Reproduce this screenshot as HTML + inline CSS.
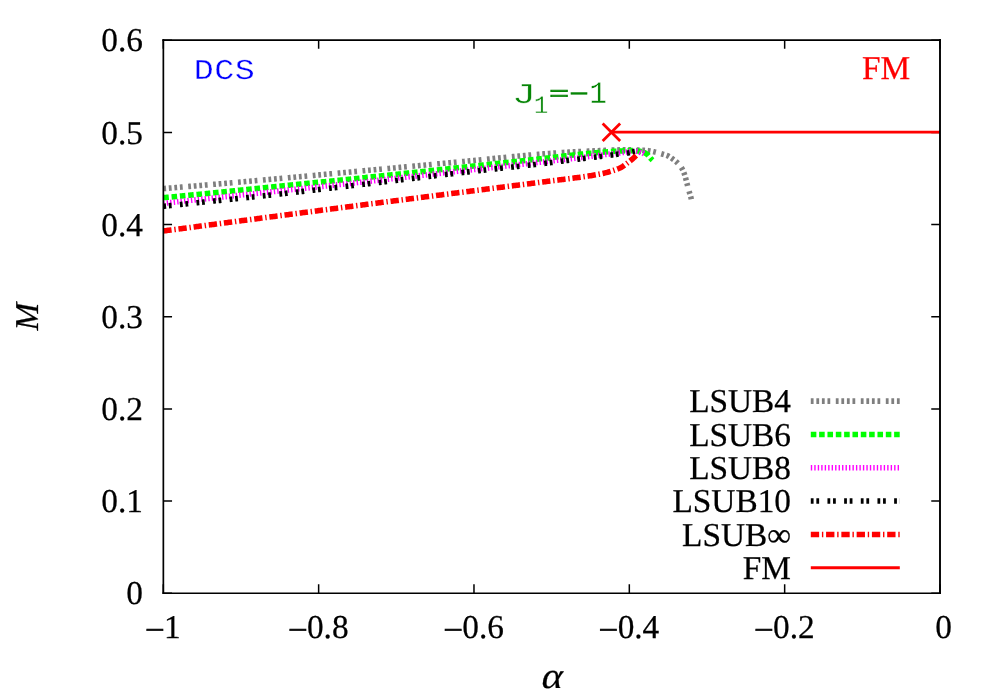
<!DOCTYPE html>
<html><head><meta charset="utf-8"><title>plot</title>
<style>
html,body{margin:0;padding:0;background:#fff;}
svg{display:block;will-change:transform;}
text{text-rendering:geometricPrecision;font-family:"Liberation Serif",serif;font-size:33.33px;fill:#000;stroke:#000;stroke-width:0.25px;}
.mono{font-family:"Liberation Mono",monospace;}
</style></head><body>
<svg width="1000" height="700" viewBox="0 0 1000 700">
<rect x="0" y="0" width="1000" height="700" fill="#fff"/>
<path d="M163.3 593.25h8.75 M940.0 593.25h-8.75 M163.3 501.08h8.75 M940.0 501.08h-8.75 M163.3 408.92h8.75 M940.0 408.92h-8.75 M163.3 316.75h8.75 M940.0 316.75h-8.75 M163.3 224.58h8.75 M940.0 224.58h-8.75 M163.3 132.42h8.75 M940.0 132.42h-8.75 M163.3 40.25h8.75 M940.0 40.25h-8.75 M163.30 593.0v-8.75 M163.30 40.0v8.75 M318.64 593.0v-8.75 M318.64 40.0v8.75 M473.98 593.0v-8.75 M473.98 40.0v8.75 M629.32 593.0v-8.75 M629.32 40.0v8.75 M784.66 593.0v-8.75 M784.66 40.0v8.75 M940.00 593.0v-8.75 M940.00 40.0v8.75" stroke="#000" stroke-width="1.5" fill="none"/>
<text x="143.0" y="604.35" text-anchor="end">0</text>
<text x="143.0" y="512.18" text-anchor="end">0.1</text>
<text x="143.0" y="420.02" text-anchor="end">0.2</text>
<text x="143.0" y="327.85" text-anchor="end">0.3</text>
<text x="143.0" y="235.68" text-anchor="end">0.4</text>
<text x="143.0" y="143.52" text-anchor="end">0.5</text>
<text x="143.0" y="51.35" text-anchor="end">0.6</text>
<text transform="translate(145.04,640.7) scale(1.05,1)" style="stroke:#000;stroke-width:0.55px">−</text>
<text x="164.12" y="637.7">1</text>
<text transform="translate(287.88,640.7) scale(1.05,1)" style="stroke:#000;stroke-width:0.55px">−</text>
<text x="306.96" y="637.7">0.8</text>
<text transform="translate(443.22,640.7) scale(1.05,1)" style="stroke:#000;stroke-width:0.55px">−</text>
<text x="462.30" y="637.7">0.6</text>
<text transform="translate(598.56,640.7) scale(1.05,1)" style="stroke:#000;stroke-width:0.55px">−</text>
<text x="617.64" y="637.7">0.4</text>
<text transform="translate(753.90,640.7) scale(1.05,1)" style="stroke:#000;stroke-width:0.55px">−</text>
<text x="772.98" y="637.7">0.2</text>
<text x="935.23" y="637.7">0</text>
<text transform="translate(539.9,688.3) skewX(-12) scale(1.2,1.1)" style="stroke:#000;stroke-width:0.2px">α</text>
<text transform="translate(38,316.5) rotate(-90)" text-anchor="middle" font-style="italic">M</text>
<text class="mono" x="0.43 18.14 35.86" transform="translate(193.3,79) scale(1.157,1)" style="font-size:28.80px;fill:#0000ff;stroke:#fff;stroke-width:0.3px;paint-order:fill stroke">DCS</text>
<text x="862" y="79" style="fill:#ff0000;stroke:#ff0000">FM</text>
<text class="mono" transform="translate(511.6,103.0) scale(1.45,1)" style="font-size:28.80px;fill:#058505;stroke:#fff;stroke-width:0.45px;paint-order:fill stroke">J</text>
<text class="mono" transform="translate(533.9,112.8) scale(0.95,1)" style="font-size:25.00px;fill:#058505;stroke:#fff;stroke-width:0.3px;paint-order:fill stroke">1</text>
<text class="mono" transform="translate(549.14,100.08000000000001) scale(1.143,0.7)" style="font-size:28.80px;fill:#058505;stroke:#058505;stroke-width:1.3px;paint-order:fill stroke">=</text>
<text class="mono" transform="translate(569,103.45) scale(1.157,1)" style="font-size:28.80px;fill:#058505;stroke:#058505;stroke-width:0.2px;paint-order:fill stroke">−</text>
<text class="mono" transform="translate(589.6,103.0) scale(0.92,1)" style="font-size:31.30px;fill:#058505;stroke:#fff;stroke-width:0.3px;paint-order:fill stroke">1</text>
<path d="M163.30 188.60 L164.69 188.48 L166.09 188.37 L167.48 188.25 L168.88 188.14 L170.27 188.02 L171.67 187.90 L173.06 187.79 L174.45 187.67 L175.85 187.55 L177.24 187.44 L178.64 187.32 L180.03 187.20 L181.43 187.08 L182.82 186.97 L184.21 186.85 L185.61 186.73 L187.00 186.61 L188.40 186.50 L189.79 186.38 L191.18 186.26 L192.58 186.14 L193.97 186.02 L195.37 185.91 L196.76 185.79 L198.15 185.67 L199.55 185.55 L200.94 185.43 L202.34 185.31 L203.73 185.19 L205.12 185.07 L206.52 184.96 L207.91 184.84 L209.31 184.72 L210.70 184.60 L212.09 184.48 L213.49 184.36 L214.88 184.24 L216.28 184.12 L217.67 184.00 L219.06 183.88 L220.46 183.76 L221.85 183.64 L223.25 183.52 L224.64 183.40 L226.03 183.28 L227.43 183.16 L228.82 183.04 L230.22 182.92 L231.61 182.80 L233.00 182.67 L234.40 182.55 L235.79 182.43 L237.19 182.31 L238.58 182.19 L239.97 182.07 L241.37 181.95 L242.76 181.82 L244.15 181.70 L245.55 181.58 L246.94 181.46 L248.34 181.33 L249.73 181.21 L251.12 181.09 L252.52 180.96 L253.91 180.84 L255.30 180.72 L256.70 180.59 L258.09 180.47 L259.48 180.35 L260.88 180.22 L262.27 180.10 L263.66 179.97 L265.06 179.85 L266.45 179.72 L267.85 179.60 L269.24 179.47 L270.63 179.35 L272.03 179.22 L273.42 179.09 L274.81 178.97 L276.21 178.84 L277.60 178.72 L278.99 178.59 L280.39 178.46 L281.78 178.34 L283.17 178.21 L284.57 178.08 L285.96 177.95 L287.35 177.83 L288.75 177.70 L290.14 177.57 L291.53 177.44 L292.93 177.32 L294.32 177.19 L295.71 177.06 L297.11 176.93 L298.50 176.80 L299.89 176.68 L301.28 176.55 L302.68 176.42 L304.07 176.29 L305.46 176.16 L306.86 176.03 L308.25 175.90 L309.64 175.77 L311.04 175.65 L312.43 175.52 L313.82 175.39 L315.22 175.26 L316.61 175.13 L318.00 175.00 L319.40 174.87 L320.79 174.74 L322.18 174.61 L323.58 174.48 L324.97 174.35 L326.36 174.22 L327.75 174.09 L329.15 173.96 L330.54 173.83 L331.93 173.71 L333.33 173.58 L334.72 173.45 L336.11 173.32 L337.51 173.19 L338.90 173.06 L340.29 172.93 L341.69 172.80 L343.08 172.67 L344.47 172.54 L345.86 172.41 L347.26 172.28 L348.65 172.15 L350.04 172.02 L351.44 171.89 L352.83 171.76 L354.22 171.63 L355.62 171.51 L357.01 171.38 L358.40 171.25 L359.80 171.12 L361.19 170.99 L362.58 170.86 L363.98 170.73 L365.37 170.60 L366.76 170.47 L368.15 170.34 L369.55 170.22 L370.94 170.09 L372.33 169.96 L373.73 169.83 L375.12 169.70 L376.51 169.57 L377.91 169.44 L379.30 169.31 L380.69 169.18 L382.09 169.05 L383.48 168.92 L384.87 168.79 L386.27 168.66 L387.66 168.53 L389.05 168.40 L390.44 168.27 L391.84 168.15 L393.23 168.02 L394.62 167.89 L396.02 167.76 L397.41 167.63 L398.80 167.50 L400.20 167.37 L401.59 167.24 L402.98 167.11 L404.38 166.98 L405.77 166.85 L407.16 166.72 L408.55 166.59 L409.95 166.46 L411.34 166.33 L412.73 166.20 L414.13 166.07 L415.52 165.94 L416.91 165.81 L418.31 165.68 L419.70 165.55 L421.09 165.42 L422.49 165.29 L423.88 165.16 L425.27 165.03 L426.66 164.90 L428.06 164.77 L429.45 164.64 L430.84 164.51 L432.24 164.38 L433.63 164.25 L435.02 164.12 L436.42 163.99 L437.81 163.86 L439.20 163.73 L440.60 163.60 L441.99 163.47 L443.38 163.34 L444.77 163.21 L446.17 163.09 L447.56 162.96 L448.95 162.83 L450.35 162.70 L451.74 162.57 L453.13 162.44 L454.53 162.31 L455.92 162.18 L457.31 162.05 L458.71 161.92 L460.10 161.79 L461.49 161.66 L462.88 161.53 L464.28 161.40 L465.67 161.27 L467.06 161.13 L468.46 161.00 L469.85 160.87 L471.24 160.73 L472.63 160.59 L474.03 160.46 L475.42 160.32 L476.81 160.18 L478.20 160.05 L479.60 159.91 L480.99 159.77 L482.38 159.63 L483.77 159.49 L485.17 159.35 L486.56 159.22 L487.95 159.08 L489.34 158.94 L490.74 158.80 L492.13 158.66 L493.52 158.52 L494.91 158.38 L496.31 158.24 L497.70 158.10 L499.09 157.96 L500.48 157.82 L501.88 157.68 L503.27 157.55 L504.66 157.41 L506.05 157.27 L507.45 157.13 L508.84 157.00 L510.23 156.86 L511.63 156.72 L513.02 156.59 L514.41 156.46 L515.80 156.32 L517.20 156.19 L518.59 156.06 L519.98 155.92 L521.38 155.79 L522.77 155.66 L524.16 155.54 L525.55 155.41 L526.95 155.28 L528.34 155.15 L529.74 155.03 L531.13 154.91 L532.52 154.78 L533.92 154.66 L535.31 154.54 L536.70 154.42 L538.10 154.31 L539.49 154.19 L540.89 154.07 L542.28 153.96 L543.67 153.85 L545.07 153.74 L546.46 153.63 L547.86 153.52 L549.25 153.42 L550.65 153.31 L552.04 153.21 L553.44 153.11 L554.83 153.01 L556.23 152.91 L557.62 152.82 L559.02 152.73 L560.41 152.63 L561.81 152.54 L563.21 152.45 L564.60 152.37 L566.00 152.28 L567.40 152.20 L568.79 152.11 L570.19 152.03 L571.59 151.95 L572.98 151.87 L574.38 151.80 L575.78 151.72 L577.18 151.65 L578.57 151.57 L579.97 151.50 L581.37 151.43 L582.76 151.36 L584.16 151.30 L585.56 151.23 L586.96 151.17 L588.35 151.10 L589.75 151.04 L591.15 150.98 L592.55 150.92 L593.95 150.86 L595.34 150.80 L596.74 150.74 L598.14 150.68 L599.54 150.62 L600.94 150.56 L602.33 150.49 L603.73 150.43 L605.13 150.36 L606.53 150.29 L607.92 150.23 L609.32 150.17 L610.72 150.11 L612.12 150.06 L613.52 150.01 L614.91 149.98 L616.31 149.94 L617.71 149.90 L619.11 149.87 L620.51 149.83 L621.91 149.80 L623.31 149.77 L624.71 149.75 L626.11 149.73 L627.50 149.71 L628.90 149.70 L630.30 149.70 L631.70 149.71 L633.10 149.75 L634.50 149.79 L635.90 149.85 L637.29 149.92 L638.69 150.00 L640.09 150.09 L641.49 150.17 L642.88 150.26 L644.28 150.35 L645.68 150.45 L647.07 150.57 L648.46 150.71 L649.84 150.89 L651.22 151.14 L652.59 151.45 L653.95 151.77 L655.31 152.09 L656.67 152.44 L658.02 152.80 L659.37 153.18 L660.72 153.57 L662.06 153.97 L663.40 154.37 L664.75 154.77 L666.09 155.20 L667.39 155.68 L668.64 156.26 L669.84 156.97 L671.01 157.76 L672.16 158.59 L673.30 159.40 L674.44 160.23 L675.55 161.10 L676.60 162.01 L677.58 162.98 L678.55 164.00 L679.48 165.07 L680.37 166.18 L681.19 167.32 L681.93 168.49 L682.60 169.69 L683.20 170.96 L683.75 172.26 L684.25 173.57 L684.70 174.89 L685.11 176.23 L685.49 177.58 L685.86 178.94 L686.21 180.29 L686.54 181.65 L686.87 183.01 L687.22 184.36 L687.57 185.72 L687.94 187.07 L688.31 188.42 L688.69 189.76 L689.06 191.11 L689.45 192.46 L689.85 193.80 L690.26 195.14 L690.65 196.48 L691.01 197.83 L691.30 199.20" fill="none" stroke="#7f7f7f" stroke-width="5.55" stroke-dasharray="2.778 2.778 2.778 2.778 2.778 2.778 2.778 5.556"/>
<path d="M163.30 197.70 L164.53 197.58 L165.77 197.47 L167.00 197.35 L168.24 197.24 L169.47 197.12 L170.71 197.00 L171.94 196.89 L173.18 196.77 L174.41 196.65 L175.65 196.54 L176.88 196.42 L178.12 196.30 L179.35 196.18 L180.59 196.07 L181.82 195.95 L183.06 195.83 L184.29 195.71 L185.53 195.59 L186.76 195.47 L188.00 195.36 L189.23 195.24 L190.47 195.12 L191.70 195.00 L192.93 194.88 L194.17 194.76 L195.40 194.64 L196.64 194.52 L197.87 194.40 L199.11 194.28 L200.34 194.16 L201.58 194.03 L202.81 193.91 L204.04 193.79 L205.28 193.67 L206.51 193.55 L207.75 193.43 L208.98 193.30 L210.22 193.18 L211.45 193.06 L212.68 192.93 L213.92 192.81 L215.15 192.69 L216.39 192.56 L217.62 192.44 L218.85 192.31 L220.09 192.19 L221.32 192.06 L222.56 191.94 L223.79 191.81 L225.02 191.68 L226.26 191.56 L227.49 191.43 L228.73 191.31 L229.96 191.18 L231.19 191.05 L232.43 190.92 L233.66 190.80 L234.90 190.67 L236.13 190.54 L237.36 190.42 L238.60 190.29 L239.83 190.16 L241.06 190.04 L242.30 189.91 L243.53 189.78 L244.77 189.66 L246.00 189.53 L247.23 189.40 L248.47 189.27 L249.70 189.15 L250.94 189.02 L252.17 188.90 L253.40 188.77 L254.64 188.64 L255.87 188.52 L257.11 188.39 L258.34 188.27 L259.57 188.14 L260.81 188.02 L262.04 187.89 L263.28 187.77 L264.51 187.65 L265.74 187.52 L266.98 187.40 L268.21 187.27 L269.45 187.15 L270.68 187.03 L271.91 186.90 L273.15 186.78 L274.38 186.66 L275.62 186.53 L276.85 186.41 L278.09 186.29 L279.32 186.16 L280.55 186.04 L281.79 185.92 L283.02 185.80 L284.26 185.67 L285.49 185.55 L286.73 185.43 L287.96 185.31 L289.19 185.18 L290.43 185.06 L291.66 184.94 L292.90 184.82 L294.13 184.69 L295.37 184.57 L296.60 184.45 L297.83 184.33 L299.07 184.21 L300.30 184.08 L301.54 183.96 L302.77 183.84 L304.01 183.72 L305.24 183.59 L306.47 183.47 L307.71 183.35 L308.94 183.23 L310.18 183.11 L311.41 182.98 L312.65 182.86 L313.88 182.74 L315.11 182.62 L316.35 182.49 L317.58 182.37 L318.82 182.25 L320.05 182.13 L321.29 182.00 L322.52 181.88 L323.75 181.76 L324.99 181.64 L326.22 181.51 L327.46 181.39 L328.69 181.27 L329.93 181.14 L331.16 181.02 L332.39 180.90 L333.63 180.77 L334.86 180.65 L336.10 180.53 L337.33 180.40 L338.56 180.28 L339.80 180.15 L341.03 180.03 L342.27 179.91 L343.50 179.78 L344.74 179.66 L345.97 179.53 L347.20 179.41 L348.44 179.28 L349.67 179.16 L350.91 179.03 L352.14 178.90 L353.37 178.78 L354.61 178.65 L355.84 178.53 L357.07 178.40 L358.31 178.27 L359.54 178.15 L360.78 178.02 L362.01 177.89 L363.24 177.77 L364.48 177.64 L365.71 177.51 L366.95 177.38 L368.18 177.26 L369.41 177.13 L370.65 177.00 L371.88 176.87 L373.11 176.74 L374.35 176.61 L375.58 176.49 L376.81 176.36 L378.05 176.23 L379.28 176.10 L380.52 175.97 L381.75 175.84 L382.98 175.71 L384.22 175.58 L385.45 175.45 L386.68 175.32 L387.92 175.19 L389.15 175.07 L390.38 174.94 L391.62 174.81 L392.85 174.68 L394.08 174.55 L395.32 174.42 L396.55 174.29 L397.79 174.15 L399.02 174.02 L400.25 173.89 L401.49 173.76 L402.72 173.63 L403.95 173.50 L405.19 173.37 L406.42 173.24 L407.65 173.11 L408.89 172.98 L410.12 172.85 L411.35 172.72 L412.59 172.58 L413.82 172.45 L415.05 172.32 L416.29 172.19 L417.52 172.06 L418.75 171.93 L419.99 171.80 L421.22 171.66 L422.45 171.53 L423.69 171.40 L424.92 171.27 L426.15 171.14 L427.39 171.00 L428.62 170.87 L429.85 170.74 L431.09 170.61 L432.32 170.48 L433.55 170.34 L434.79 170.21 L436.02 170.08 L437.25 169.95 L438.49 169.81 L439.72 169.68 L440.95 169.55 L442.19 169.42 L443.42 169.28 L444.65 169.15 L445.89 169.02 L447.12 168.89 L448.35 168.75 L449.58 168.62 L450.82 168.49 L452.05 168.36 L453.28 168.22 L454.52 168.09 L455.75 167.96 L456.98 167.82 L458.22 167.69 L459.45 167.56 L460.68 167.43 L461.92 167.29 L463.15 167.16 L464.38 167.03 L465.62 166.90 L466.85 166.76 L468.08 166.63 L469.32 166.50 L470.55 166.37 L471.78 166.24 L473.02 166.10 L474.25 165.97 L475.48 165.84 L476.72 165.71 L477.95 165.57 L479.18 165.44 L480.42 165.31 L481.65 165.18 L482.88 165.05 L484.12 164.92 L485.35 164.78 L486.58 164.65 L487.82 164.52 L489.05 164.39 L490.28 164.26 L491.52 164.12 L492.75 163.99 L493.98 163.86 L495.22 163.73 L496.45 163.59 L497.68 163.46 L498.92 163.33 L500.15 163.20 L501.38 163.06 L502.62 162.93 L503.85 162.80 L505.08 162.66 L506.32 162.53 L507.55 162.40 L508.78 162.26 L510.02 162.13 L511.25 162.00 L512.48 161.86 L513.71 161.73 L514.95 161.60 L516.18 161.46 L517.41 161.33 L518.65 161.19 L519.88 161.06 L521.11 160.92 L522.35 160.79 L523.58 160.65 L524.81 160.52 L526.04 160.38 L527.28 160.24 L528.51 160.11 L529.74 159.97 L530.98 159.84 L532.21 159.70 L533.44 159.56 L534.67 159.42 L535.91 159.29 L537.14 159.15 L538.37 159.01 L539.60 158.87 L540.84 158.73 L542.07 158.59 L543.30 158.45 L544.53 158.31 L545.77 158.17 L547.00 158.03 L548.23 157.89 L549.46 157.75 L550.70 157.61 L551.93 157.47 L553.16 157.33 L554.39 157.19 L555.62 157.04 L556.86 156.90 L558.09 156.75 L559.32 156.60 L560.55 156.45 L561.78 156.30 L563.01 156.16 L564.25 156.02 L565.48 155.88 L566.71 155.74 L567.94 155.60 L569.18 155.46 L570.41 155.33 L571.64 155.19 L572.88 155.06 L574.11 154.92 L575.34 154.79 L576.57 154.65 L577.81 154.52 L579.04 154.39 L580.28 154.26 L581.51 154.13 L582.74 154.01 L583.98 153.88 L585.21 153.75 L586.45 153.63 L587.68 153.51 L588.91 153.39 L590.15 153.27 L591.38 153.15 L592.62 153.04 L593.85 152.92 L595.09 152.81 L596.32 152.70 L597.56 152.59 L598.80 152.49 L600.03 152.39 L601.27 152.29 L602.51 152.20 L603.74 152.10 L604.98 152.01 L606.22 151.92 L607.45 151.83 L608.69 151.73 L609.93 151.64 L611.16 151.55 L612.40 151.47 L613.64 151.39 L614.88 151.32 L616.12 151.26 L617.35 151.20 L618.59 151.14 L619.83 151.08 L621.07 151.02 L622.31 150.96 L623.55 150.88 L624.79 150.81 L626.03 150.73 L627.27 150.67 L628.51 150.62 L629.74 150.60 L630.98 150.61 L632.23 150.64 L633.47 150.69 L634.71 150.76 L635.95 150.84 L637.19 150.93 L638.41 151.04 L639.64 151.23 L640.87 151.50 L642.07 151.82 L643.24 152.18 L644.40 152.65 L645.53 153.22 L646.56 153.88 L647.48 154.63 L648.32 155.53 L649.12 156.50 L649.90 157.50 L650.71 158.48 L651.58 159.37 L652.50 160.20" fill="none" stroke="#00ff00" stroke-width="5.55" stroke-dasharray="5.556 2.778"/>
<path d="M163.30 203.30 L164.51 203.17 L165.71 203.04 L166.92 202.91 L168.13 202.79 L169.33 202.66 L170.54 202.53 L171.75 202.40 L172.95 202.27 L174.16 202.14 L175.36 202.02 L176.57 201.89 L177.78 201.76 L178.98 201.63 L180.19 201.50 L181.40 201.37 L182.60 201.25 L183.81 201.12 L185.02 200.99 L186.22 200.86 L187.43 200.73 L188.64 200.60 L189.84 200.48 L191.05 200.35 L192.25 200.22 L193.46 200.09 L194.67 199.96 L195.87 199.83 L197.08 199.71 L198.29 199.58 L199.49 199.45 L200.70 199.32 L201.91 199.19 L203.11 199.06 L204.32 198.94 L205.53 198.81 L206.73 198.68 L207.94 198.55 L209.14 198.42 L210.35 198.29 L211.56 198.16 L212.76 198.04 L213.97 197.91 L215.18 197.78 L216.38 197.65 L217.59 197.52 L218.80 197.39 L220.00 197.27 L221.21 197.14 L222.42 197.01 L223.62 196.88 L224.83 196.75 L226.04 196.62 L227.24 196.50 L228.45 196.37 L229.65 196.24 L230.86 196.11 L232.07 195.98 L233.27 195.85 L234.48 195.72 L235.69 195.60 L236.89 195.47 L238.10 195.34 L239.31 195.21 L240.51 195.08 L241.72 194.95 L242.93 194.83 L244.13 194.70 L245.34 194.57 L246.54 194.44 L247.75 194.31 L248.96 194.18 L250.16 194.05 L251.37 193.93 L252.58 193.80 L253.78 193.67 L254.99 193.54 L256.20 193.41 L257.40 193.28 L258.61 193.15 L259.82 193.03 L261.02 192.90 L262.23 192.77 L263.43 192.64 L264.64 192.51 L265.85 192.38 L267.05 192.26 L268.26 192.13 L269.47 192.00 L270.67 191.87 L271.88 191.74 L273.09 191.62 L274.29 191.49 L275.50 191.36 L276.71 191.23 L277.91 191.10 L279.12 190.98 L280.33 190.85 L281.53 190.72 L282.74 190.59 L283.95 190.47 L285.15 190.34 L286.36 190.21 L287.56 190.08 L288.77 189.96 L289.98 189.83 L291.18 189.70 L292.39 189.57 L293.60 189.45 L294.80 189.32 L296.01 189.19 L297.22 189.06 L298.42 188.94 L299.63 188.81 L300.84 188.68 L302.04 188.55 L303.25 188.43 L304.46 188.30 L305.66 188.17 L306.87 188.04 L308.08 187.92 L309.28 187.79 L310.49 187.66 L311.70 187.53 L312.90 187.41 L314.11 187.28 L315.32 187.15 L316.52 187.02 L317.73 186.89 L318.93 186.77 L320.14 186.64 L321.35 186.51 L322.55 186.38 L323.76 186.25 L324.97 186.12 L326.17 186.00 L327.38 185.87 L328.59 185.74 L329.79 185.61 L331.00 185.48 L332.21 185.35 L333.41 185.22 L334.62 185.09 L335.82 184.96 L337.03 184.83 L338.24 184.70 L339.44 184.58 L340.65 184.45 L341.86 184.32 L343.06 184.19 L344.27 184.06 L345.47 183.93 L346.68 183.79 L347.89 183.66 L349.09 183.53 L350.30 183.40 L351.51 183.27 L352.71 183.14 L353.92 183.01 L355.12 182.88 L356.33 182.75 L357.54 182.61 L358.74 182.48 L359.95 182.35 L361.15 182.22 L362.36 182.09 L363.57 181.95 L364.77 181.82 L365.98 181.69 L367.18 181.55 L368.39 181.42 L369.60 181.29 L370.80 181.15 L372.01 181.02 L373.21 180.89 L374.42 180.75 L375.62 180.62 L376.83 180.48 L378.04 180.35 L379.24 180.21 L380.45 180.08 L381.65 179.94 L382.86 179.81 L384.07 179.67 L385.27 179.54 L386.48 179.40 L387.68 179.27 L388.89 179.13 L390.09 179.00 L391.30 178.86 L392.50 178.72 L393.71 178.59 L394.92 178.45 L396.12 178.32 L397.33 178.18 L398.53 178.04 L399.74 177.91 L400.94 177.77 L402.15 177.63 L403.35 177.50 L404.56 177.36 L405.77 177.22 L406.97 177.09 L408.18 176.95 L409.38 176.81 L410.59 176.68 L411.79 176.54 L413.00 176.40 L414.20 176.26 L415.41 176.13 L416.62 175.99 L417.82 175.85 L419.03 175.72 L420.23 175.58 L421.44 175.44 L422.64 175.31 L423.85 175.17 L425.05 175.03 L426.26 174.90 L427.47 174.76 L428.67 174.62 L429.88 174.48 L431.08 174.35 L432.29 174.21 L433.49 174.07 L434.70 173.94 L435.90 173.80 L437.11 173.66 L438.31 173.53 L439.52 173.39 L440.73 173.26 L441.93 173.12 L443.14 172.98 L444.34 172.85 L445.55 172.71 L446.75 172.57 L447.96 172.44 L449.17 172.30 L450.37 172.17 L451.58 172.03 L452.78 171.90 L453.99 171.76 L455.19 171.63 L456.40 171.49 L457.61 171.36 L458.81 171.22 L460.02 171.09 L461.22 170.95 L462.43 170.82 L463.63 170.68 L464.84 170.55 L466.05 170.42 L467.25 170.28 L468.46 170.15 L469.66 170.01 L470.87 169.88 L472.08 169.75 L473.28 169.61 L474.49 169.48 L475.69 169.35 L476.90 169.21 L478.10 169.08 L479.31 168.95 L480.52 168.82 L481.72 168.68 L482.93 168.55 L484.13 168.42 L485.34 168.28 L486.55 168.15 L487.75 168.02 L488.96 167.89 L490.16 167.75 L491.37 167.62 L492.58 167.49 L493.78 167.36 L494.99 167.23 L496.19 167.09 L497.40 166.96 L498.61 166.83 L499.81 166.70 L501.02 166.56 L502.22 166.43 L503.43 166.30 L504.64 166.17 L505.84 166.03 L507.05 165.90 L508.26 165.77 L509.46 165.64 L510.67 165.50 L511.87 165.37 L513.08 165.24 L514.29 165.11 L515.49 164.97 L516.70 164.84 L517.90 164.71 L519.11 164.58 L520.31 164.44 L521.52 164.31 L522.73 164.18 L523.93 164.04 L525.14 163.91 L526.34 163.78 L527.55 163.64 L528.76 163.51 L529.96 163.37 L531.17 163.24 L532.37 163.11 L533.58 162.97 L534.79 162.84 L535.99 162.70 L537.20 162.57 L538.40 162.43 L539.61 162.30 L540.81 162.16 L542.02 162.03 L543.23 161.89 L544.43 161.76 L545.64 161.62 L546.84 161.49 L548.05 161.35 L549.25 161.22 L550.46 161.08 L551.66 160.94 L552.87 160.81 L554.08 160.67 L555.28 160.53 L556.49 160.39 L557.69 160.26 L558.90 160.12 L560.10 159.98 L561.31 159.84 L562.51 159.71 L563.72 159.57 L564.92 159.43 L566.13 159.29 L567.34 159.15 L568.54 159.02 L569.75 158.88 L570.95 158.74 L572.16 158.60 L573.36 158.46 L574.57 158.32 L575.77 158.18 L576.98 158.04 L578.18 157.90 L579.39 157.76 L580.59 157.62 L581.80 157.48 L583.00 157.33 L584.21 157.19 L585.41 157.05 L586.62 156.90 L587.82 156.76 L589.03 156.61 L590.23 156.47 L591.43 156.32 L592.64 156.17 L593.84 156.02 L595.05 155.87 L596.25 155.71 L597.45 155.55 L598.66 155.40 L599.86 155.24 L601.06 155.08 L602.26 154.93 L603.47 154.78 L604.67 154.63 L605.88 154.49 L607.08 154.35 L608.29 154.22 L609.50 154.09 L610.70 153.96 L611.91 153.84 L613.12 153.71 L614.32 153.59 L615.53 153.46 L616.74 153.33 L617.94 153.19 L619.15 153.04 L620.35 152.89 L621.55 152.72 L622.75 152.54 L623.95 152.35 L625.15 152.18 L626.35 152.02 L627.56 151.86 L628.76 151.69 L629.97 151.52 L631.17 151.39 L632.38 151.31 L633.59 151.30 L634.82 151.30 L636.03 151.30 L637.22 151.33 L638.38 151.65 L639.53 152.14 L640.67 152.56 L641.83 152.95 L642.96 153.39 L644.00 154.00" fill="none" stroke="#ff00ff" stroke-width="5.55" stroke-dasharray="1.389 2.083"/>
<path d="M163.30 206.30 L164.48 206.18 L165.67 206.05 L166.85 205.93 L168.03 205.81 L169.22 205.68 L170.40 205.56 L171.59 205.44 L172.77 205.31 L173.95 205.19 L175.14 205.06 L176.32 204.94 L177.50 204.82 L178.69 204.69 L179.87 204.57 L181.05 204.45 L182.24 204.32 L183.42 204.20 L184.60 204.08 L185.79 203.95 L186.97 203.83 L188.16 203.70 L189.34 203.58 L190.52 203.46 L191.71 203.33 L192.89 203.21 L194.07 203.09 L195.26 202.96 L196.44 202.84 L197.62 202.71 L198.81 202.59 L199.99 202.47 L201.17 202.34 L202.36 202.22 L203.54 202.10 L204.73 201.97 L205.91 201.85 L207.09 201.72 L208.28 201.60 L209.46 201.48 L210.64 201.36 L211.83 201.23 L213.01 201.11 L214.19 200.99 L215.38 200.86 L216.56 200.74 L217.75 200.62 L218.93 200.50 L220.11 200.37 L221.30 200.25 L222.48 200.13 L223.66 200.01 L224.85 199.88 L226.03 199.76 L227.22 199.64 L228.40 199.52 L229.58 199.39 L230.77 199.27 L231.95 199.15 L233.13 199.03 L234.32 198.90 L235.50 198.78 L236.68 198.66 L237.87 198.53 L239.05 198.41 L240.24 198.29 L241.42 198.16 L242.60 198.04 L243.79 197.91 L244.97 197.79 L246.15 197.67 L247.34 197.54 L248.52 197.42 L249.70 197.29 L250.89 197.17 L252.07 197.04 L253.25 196.91 L254.44 196.79 L255.62 196.66 L256.80 196.53 L257.99 196.41 L259.17 196.28 L260.35 196.15 L261.54 196.02 L262.72 195.89 L263.90 195.77 L265.09 195.64 L266.27 195.51 L267.45 195.38 L268.63 195.25 L269.82 195.12 L271.00 194.98 L272.18 194.85 L273.36 194.72 L274.55 194.59 L275.73 194.46 L276.91 194.33 L278.10 194.20 L279.28 194.06 L280.46 193.93 L281.64 193.80 L282.83 193.66 L284.01 193.53 L285.19 193.40 L286.37 193.26 L287.56 193.13 L288.74 193.00 L289.92 192.86 L291.10 192.73 L292.29 192.59 L293.47 192.46 L294.65 192.32 L295.83 192.19 L297.01 192.05 L298.20 191.92 L299.38 191.78 L300.56 191.65 L301.74 191.51 L302.93 191.37 L304.11 191.24 L305.29 191.10 L306.47 190.96 L307.65 190.83 L308.84 190.69 L310.02 190.55 L311.20 190.42 L312.38 190.28 L313.57 190.14 L314.75 190.01 L315.93 189.87 L317.11 189.73 L318.29 189.59 L319.48 189.46 L320.66 189.32 L321.84 189.18 L323.02 189.04 L324.20 188.90 L325.39 188.77 L326.57 188.63 L327.75 188.49 L328.93 188.35 L330.11 188.21 L331.30 188.07 L332.48 187.94 L333.66 187.80 L334.84 187.66 L336.02 187.52 L337.21 187.38 L338.39 187.24 L339.57 187.10 L340.75 186.97 L341.93 186.83 L343.12 186.69 L344.30 186.55 L345.48 186.41 L346.66 186.27 L347.84 186.13 L349.02 186.00 L350.21 185.86 L351.39 185.72 L352.57 185.58 L353.75 185.44 L354.93 185.30 L356.12 185.16 L357.30 185.03 L358.48 184.89 L359.66 184.75 L360.84 184.61 L362.03 184.47 L363.21 184.33 L364.39 184.20 L365.57 184.06 L366.75 183.92 L367.94 183.78 L369.12 183.64 L370.30 183.50 L371.48 183.36 L372.66 183.22 L373.85 183.08 L375.03 182.94 L376.21 182.81 L377.39 182.67 L378.57 182.53 L379.75 182.39 L380.94 182.24 L382.12 182.10 L383.30 181.96 L384.48 181.82 L385.66 181.68 L386.84 181.54 L388.03 181.40 L389.21 181.26 L390.39 181.12 L391.57 180.98 L392.75 180.84 L393.93 180.70 L395.12 180.55 L396.30 180.41 L397.48 180.27 L398.66 180.13 L399.84 179.99 L401.02 179.85 L402.21 179.71 L403.39 179.56 L404.57 179.42 L405.75 179.28 L406.93 179.14 L408.11 179.00 L409.30 178.86 L410.48 178.71 L411.66 178.57 L412.84 178.43 L414.02 178.29 L415.20 178.15 L416.38 178.01 L417.57 177.87 L418.75 177.72 L419.93 177.58 L421.11 177.44 L422.29 177.30 L423.47 177.16 L424.66 177.02 L425.84 176.88 L427.02 176.73 L428.20 176.59 L429.38 176.45 L430.56 176.31 L431.75 176.17 L432.93 176.03 L434.11 175.89 L435.29 175.75 L436.47 175.61 L437.65 175.47 L438.84 175.33 L440.02 175.19 L441.20 175.05 L442.38 174.91 L443.56 174.77 L444.74 174.63 L445.93 174.49 L447.11 174.35 L448.29 174.21 L449.47 174.07 L450.65 173.94 L451.84 173.80 L453.02 173.66 L454.20 173.52 L455.38 173.38 L456.56 173.25 L457.75 173.11 L458.93 172.97 L460.11 172.83 L461.29 172.70 L462.47 172.56 L463.66 172.42 L464.84 172.29 L466.02 172.15 L467.20 172.02 L468.39 171.88 L469.57 171.75 L470.75 171.62 L471.93 171.48 L473.12 171.35 L474.30 171.22 L475.48 171.09 L476.66 170.95 L477.85 170.82 L479.03 170.69 L480.21 170.56 L481.40 170.43 L482.58 170.30 L483.76 170.17 L484.94 170.04 L486.13 169.91 L487.31 169.78 L488.49 169.65 L489.68 169.52 L490.86 169.39 L492.04 169.26 L493.23 169.13 L494.41 169.01 L495.59 168.88 L496.78 168.75 L497.96 168.62 L499.14 168.49 L500.32 168.36 L501.51 168.23 L502.69 168.10 L503.87 167.98 L505.06 167.85 L506.24 167.72 L507.42 167.59 L508.61 167.46 L509.79 167.33 L510.97 167.20 L512.16 167.07 L513.34 166.94 L514.52 166.81 L515.70 166.68 L516.89 166.55 L518.07 166.42 L519.25 166.29 L520.44 166.16 L521.62 166.03 L522.80 165.89 L523.98 165.76 L525.17 165.63 L526.35 165.49 L527.53 165.36 L528.71 165.23 L529.90 165.09 L531.08 164.96 L532.26 164.82 L533.44 164.69 L534.62 164.55 L535.81 164.41 L536.99 164.28 L538.17 164.14 L539.35 164.00 L540.53 163.86 L541.72 163.72 L542.90 163.58 L544.08 163.44 L545.26 163.30 L546.44 163.16 L547.62 163.01 L548.80 162.87 L549.99 162.72 L551.17 162.58 L552.35 162.43 L553.53 162.28 L554.71 162.13 L555.89 161.97 L557.07 161.81 L558.25 161.66 L559.43 161.50 L560.61 161.34 L561.79 161.19 L562.97 161.04 L564.15 160.89 L565.33 160.74 L566.51 160.59 L567.69 160.45 L568.87 160.30 L570.05 160.15 L571.23 160.01 L572.41 159.86 L573.60 159.72 L574.78 159.57 L575.96 159.43 L577.14 159.29 L578.32 159.14 L579.50 159.00 L580.68 158.86 L581.86 158.71 L583.05 158.57 L584.23 158.43 L585.41 158.28 L586.59 158.14 L587.77 158.00 L588.95 157.85 L590.13 157.71 L591.32 157.57 L592.50 157.42 L593.68 157.28 L594.86 157.13 L596.04 156.99 L597.22 156.84 L598.40 156.69 L599.58 156.55 L600.76 156.40 L601.94 156.25 L603.13 156.10 L604.31 155.96 L605.49 155.81 L606.67 155.66 L607.85 155.51 L609.03 155.36 L610.21 155.21 L611.39 155.05 L612.57 154.89 L613.75 154.72 L614.92 154.54 L616.10 154.38 L617.28 154.22 L618.46 154.07 L619.65 153.94 L620.83 153.81 L622.02 153.69 L623.20 153.57 L624.39 153.45 L625.57 153.32 L626.75 153.17 L627.93 153.00 L629.09 152.81 L630.26 152.56 L631.41 152.27 L632.57 151.98 L633.73 151.72 L634.90 151.50" fill="none" stroke="#000000" stroke-width="5.55" stroke-dasharray="2.778 2.778 2.778 8.333"/>
<path d="M163.30 231.00 L164.50 230.84 L165.69 230.68 L166.89 230.53 L168.09 230.37 L169.29 230.21 L170.48 230.05 L171.68 229.90 L172.88 229.74 L174.07 229.58 L175.27 229.42 L176.47 229.27 L177.67 229.11 L178.86 228.95 L180.06 228.79 L181.26 228.64 L182.45 228.48 L183.65 228.32 L184.85 228.16 L186.04 228.01 L187.24 227.85 L188.44 227.69 L189.64 227.53 L190.83 227.38 L192.03 227.22 L193.23 227.06 L194.42 226.90 L195.62 226.75 L196.82 226.59 L198.02 226.43 L199.21 226.28 L200.41 226.12 L201.61 225.96 L202.80 225.80 L204.00 225.65 L205.20 225.49 L206.40 225.33 L207.59 225.17 L208.79 225.02 L209.99 224.86 L211.18 224.70 L212.38 224.55 L213.58 224.39 L214.78 224.23 L215.97 224.07 L217.17 223.92 L218.37 223.76 L219.56 223.60 L220.76 223.45 L221.96 223.29 L223.16 223.13 L224.35 222.97 L225.55 222.82 L226.75 222.66 L227.95 222.50 L229.14 222.35 L230.34 222.19 L231.54 222.03 L232.73 221.87 L233.93 221.72 L235.13 221.56 L236.33 221.40 L237.52 221.25 L238.72 221.09 L239.92 220.93 L241.11 220.78 L242.31 220.62 L243.51 220.46 L244.71 220.30 L245.90 220.15 L247.10 219.99 L248.30 219.83 L249.49 219.68 L250.69 219.52 L251.89 219.36 L253.09 219.21 L254.28 219.05 L255.48 218.89 L256.68 218.74 L257.87 218.58 L259.07 218.42 L260.27 218.27 L261.47 218.11 L262.66 217.95 L263.86 217.80 L265.06 217.64 L266.26 217.48 L267.45 217.33 L268.65 217.17 L269.85 217.01 L271.04 216.86 L272.24 216.70 L273.44 216.54 L274.64 216.39 L275.83 216.23 L277.03 216.07 L278.23 215.92 L279.42 215.76 L280.62 215.60 L281.82 215.45 L283.02 215.29 L284.21 215.13 L285.41 214.98 L286.61 214.82 L287.81 214.66 L289.00 214.50 L290.20 214.35 L291.40 214.19 L292.59 214.03 L293.79 213.88 L294.99 213.72 L296.19 213.56 L297.38 213.41 L298.58 213.25 L299.78 213.09 L300.97 212.94 L302.17 212.78 L303.37 212.62 L304.57 212.47 L305.76 212.31 L306.96 212.15 L308.16 212.00 L309.35 211.84 L310.55 211.68 L311.75 211.53 L312.95 211.37 L314.14 211.21 L315.34 211.06 L316.54 210.90 L317.74 210.74 L318.93 210.59 L320.13 210.43 L321.33 210.27 L322.52 210.12 L323.72 209.96 L324.92 209.80 L326.12 209.65 L327.31 209.49 L328.51 209.34 L329.71 209.18 L330.91 209.02 L332.10 208.87 L333.30 208.71 L334.50 208.56 L335.69 208.40 L336.89 208.24 L338.09 208.09 L339.29 207.93 L340.48 207.78 L341.68 207.62 L342.88 207.46 L344.08 207.31 L345.27 207.15 L346.47 207.00 L347.67 206.84 L348.87 206.69 L350.06 206.53 L351.26 206.38 L352.46 206.22 L353.66 206.07 L354.85 205.91 L356.05 205.76 L357.25 205.60 L358.44 205.45 L359.64 205.29 L360.84 205.14 L362.04 204.98 L363.23 204.83 L364.43 204.67 L365.63 204.52 L366.83 204.36 L368.02 204.21 L369.22 204.06 L370.42 203.90 L371.62 203.75 L372.82 203.59 L374.01 203.44 L375.21 203.29 L376.41 203.13 L377.61 202.98 L378.80 202.83 L380.00 202.67 L381.20 202.52 L382.40 202.37 L383.59 202.21 L384.79 202.06 L385.99 201.91 L387.19 201.75 L388.38 201.60 L389.58 201.45 L390.78 201.29 L391.98 201.14 L393.18 200.99 L394.37 200.83 L395.57 200.68 L396.77 200.53 L397.97 200.38 L399.16 200.22 L400.36 200.07 L401.56 199.92 L402.76 199.77 L403.95 199.61 L405.15 199.46 L406.35 199.31 L407.55 199.16 L408.75 199.00 L409.94 198.85 L411.14 198.70 L412.34 198.55 L413.54 198.39 L414.73 198.24 L415.93 198.09 L417.13 197.94 L418.33 197.79 L419.53 197.63 L420.72 197.48 L421.92 197.33 L423.12 197.18 L424.32 197.03 L425.52 196.87 L426.71 196.72 L427.91 196.57 L429.11 196.42 L430.31 196.26 L431.50 196.11 L432.70 195.96 L433.90 195.81 L435.10 195.66 L436.30 195.50 L437.49 195.35 L438.69 195.20 L439.89 195.05 L441.09 194.90 L442.28 194.74 L443.48 194.59 L444.68 194.44 L445.88 194.29 L447.08 194.14 L448.27 193.98 L449.47 193.83 L450.67 193.68 L451.87 193.53 L453.06 193.37 L454.26 193.22 L455.46 193.07 L456.66 192.92 L457.86 192.76 L459.05 192.61 L460.25 192.46 L461.45 192.31 L462.65 192.15 L463.84 192.00 L465.04 191.85 L466.24 191.70 L467.44 191.54 L468.64 191.39 L469.83 191.24 L471.03 191.09 L472.23 190.93 L473.43 190.78 L474.62 190.63 L475.82 190.48 L477.02 190.33 L478.22 190.17 L479.42 190.02 L480.61 189.87 L481.81 189.72 L483.01 189.56 L484.21 189.41 L485.40 189.26 L486.60 189.11 L487.80 188.95 L489.00 188.80 L490.20 188.65 L491.39 188.50 L492.59 188.35 L493.79 188.19 L494.99 188.04 L496.18 187.89 L497.38 187.74 L498.58 187.58 L499.78 187.43 L500.98 187.28 L502.17 187.13 L503.37 186.98 L504.57 186.82 L505.77 186.67 L506.96 186.52 L508.16 186.37 L509.36 186.21 L510.56 186.06 L511.76 185.91 L512.95 185.76 L514.15 185.61 L515.35 185.45 L516.55 185.30 L517.74 185.15 L518.94 185.00 L520.14 184.85 L521.34 184.69 L522.54 184.54 L523.73 184.39 L524.93 184.24 L526.13 184.08 L527.33 183.93 L528.53 183.78 L529.72 183.63 L530.92 183.48 L532.12 183.32 L533.32 183.17 L534.51 183.02 L535.71 182.87 L536.91 182.72 L538.11 182.56 L539.31 182.41 L540.50 182.26 L541.70 182.11 L542.90 181.96 L544.10 181.80 L545.29 181.65 L546.49 181.50 L547.69 181.35 L548.89 181.20 L550.09 181.05 L551.28 180.89 L552.48 180.74 L553.68 180.59 L554.88 180.44 L556.08 180.29 L557.27 180.14 L558.47 179.98 L559.67 179.83 L560.87 179.68 L562.06 179.53 L563.26 179.38 L564.46 179.23 L565.66 179.08 L566.86 178.93 L568.06 178.78 L569.25 178.63 L570.45 178.48 L571.65 178.33 L572.85 178.18 L574.05 178.03 L575.24 177.87 L576.44 177.71 L577.64 177.55 L578.83 177.39 L580.03 177.22 L581.23 177.06 L582.42 176.90 L583.62 176.73 L584.81 176.56 L586.01 176.39 L587.20 176.21 L588.40 176.03 L589.59 175.85 L590.78 175.66 L591.97 175.46 L593.16 175.26 L594.36 175.06 L595.55 174.85 L596.74 174.64 L597.93 174.42 L599.11 174.19 L600.30 173.96 L601.48 173.71 L602.66 173.46 L603.84 173.20 L605.01 172.92 L606.18 172.63 L607.35 172.32 L608.51 171.99 L609.67 171.65 L610.83 171.30 L611.98 170.93 L613.13 170.56 L614.27 170.18 L615.42 169.79 L616.57 169.38 L617.71 168.95 L618.83 168.50 L619.93 168.02 L621.00 167.50 L622.04 166.92 L623.06 166.28 L624.05 165.58 L625.03 164.86 L626.00 164.11 L626.96 163.38 L627.93 162.65 L628.88 161.91 L629.83 161.16 L630.77 160.40 L631.70 159.62 L632.61 158.83 L633.51 158.03 L634.39 157.21 L635.25 156.36 L636.10 155.50" fill="none" stroke="#ff0000" stroke-width="5.55" stroke-dasharray="8.333 2.778 1.389 2.778"/>
<path d="M611.4 132.2H940.0" stroke="#ff0000" stroke-width="2.78" fill="none"/>
<path d="M602.65 123.44999999999999L620.15 140.95M602.65 140.95L620.15 123.44999999999999" stroke="#ff0000" stroke-width="2.78" fill="none"/>
<path d="M162.4 40.0H940.95" stroke="#000" stroke-width="1.75" fill="none"/>
<path d="M162.4 593.2H940.95" stroke="#000" stroke-width="1.5" fill="none"/>
<path d="M163.35000000000002 39.1V593.95" stroke="#000" stroke-width="1.7" fill="none"/>
<path d="M940.0 39.1V593.95" stroke="#000" stroke-width="1.9" fill="none"/>
<text x="791" y="412.20" text-anchor="end">LSUB4</text>
<path d="M810.8 401.10H899.8" stroke="#7f7f7f" stroke-width="5.55" fill="none" stroke-dasharray="2.778 2.778 2.778 2.778 2.778 2.778 2.778 5.556"/>
<text x="791" y="445.53" text-anchor="end">LSUB6</text>
<path d="M810.8 434.43H899.8" stroke="#00ff00" stroke-width="5.55" fill="none" stroke-dasharray="5.556 2.778"/>
<text x="791" y="478.86" text-anchor="end">LSUB8</text>
<path d="M810.8 467.76H899.8" stroke="#ff00ff" stroke-width="5.55" fill="none" stroke-dasharray="1.389 2.083"/>
<text x="791" y="512.19" text-anchor="end">LSUB10</text>
<path d="M810.8 501.09H899.8" stroke="#000" stroke-width="5.55" fill="none" stroke-dasharray="2.778 2.778 2.778 8.333"/>
<text x="791" y="545.52" text-anchor="end">LSUB∞</text>
<path d="M810.8 534.42H899.8" stroke="#ff0000" stroke-width="5.55" fill="none" stroke-dasharray="8.333 2.778 1.389 2.778"/>
<text x="791" y="578.85" text-anchor="end">FM</text>
<path d="M810.8 567.75H899.8" stroke="#ff0000" stroke-width="2.78" fill="none"/>
</svg></body></html>
